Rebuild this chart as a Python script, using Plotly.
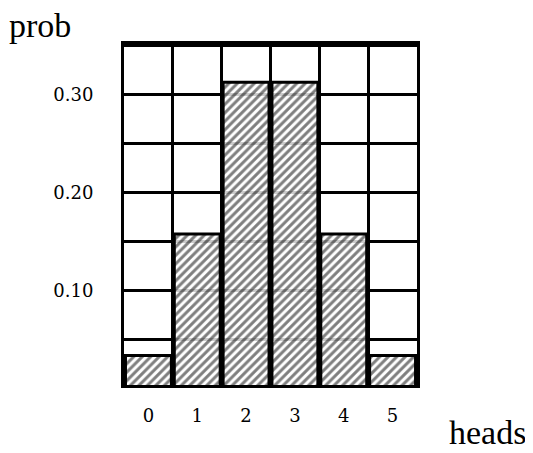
import plotly.graph_objects as go

heads = [0, 1, 2, 3, 4, 5]
prob = [0.034, 0.158, 0.313, 0.313, 0.158, 0.034]
y_tick_vals = [0.10, 0.20, 0.30]
y_tick_text = ["0.10", "0.20", "0.30"]
x_tick_text = ["0", "1", "2", "3", "4", "5"]

fig = go.Figure(
    go.Bar(
        x=heads,
        y=prob,
        marker=dict(
            color="rgba(255,255,255,0.8)",
            line=dict(color="black", width=3),
            pattern=dict(shape="/", fgcolor="black", size=6, solidity=0.5),
        ),
    )
)

tick_font = dict(family="DejaVu Serif", size=18, color="black")

fig.update_layout(
    width=525,
    height=445,
    margin=dict(l=116, r=116, t=36, b=68),
    paper_bgcolor="white",
    plot_bgcolor="white",
    bargap=0.06,
    showlegend=False,
    font=dict(family="Liberation Serif", color="black"),
    xaxis=dict(
        range=[-0.5, 5.5],
        tickvals=heads,
        ticktext=x_tick_text,
        tickfont=tick_font,
        showgrid=False,
        zeroline=False,
        showline=True,
        mirror=True,
        linecolor="black",
        linewidth=3,
        ticks="",
        ticklabelstandoff=12,
        minor=dict(tick0=0.5, dtick=1, showgrid=True, gridcolor="black", gridwidth=2.5),
    ),
    yaxis=dict(
        range=[0.004, 0.352],
        tickvals=y_tick_vals,
        ticktext=y_tick_text,
        tickfont=tick_font,
        showgrid=True,
        gridcolor="black",
        gridwidth=2.5,
        zeroline=False,
        showline=True,
        mirror=True,
        linecolor="black",
        linewidth=3,
        ticks="",
        ticklabelstandoff=24,
        minor=dict(tick0=0, dtick=0.05, showgrid=True, gridcolor="black", gridwidth=2.5),
    ),
    annotations=[
        dict(text="prob", xref="paper", yref="paper", x=-0.287, y=1.053,
             xanchor="center", yanchor="middle", showarrow=False,
             font=dict(family="Liberation Serif", size=34, color="black")),
        dict(text="heads", xref="paper", yref="paper", x=1.242, y=-0.138,
             xanchor="center", yanchor="middle", showarrow=False,
             font=dict(family="Liberation Serif", size=34, color="black")),
    ],
)

fig.write_html("out.html")
